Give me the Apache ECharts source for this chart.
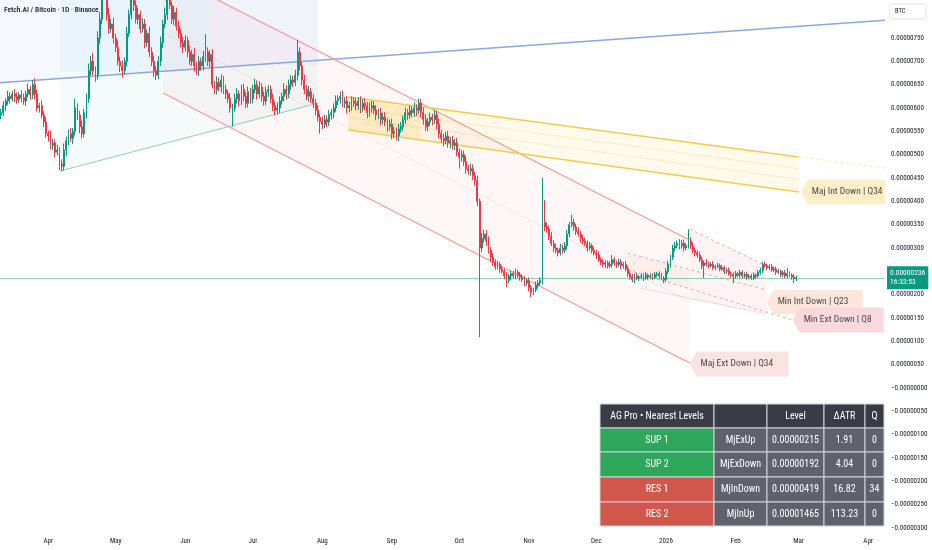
<!DOCTYPE html>
<html><head><meta charset="utf-8">
<script src="https://cdn.jsdelivr.net/npm/echarts@6/dist/echarts.min.js"></script>
<style>html,body{margin:0;padding:0;background:#fff}#c{width:932px;height:550px}</style>
</head><body><div id="c"></div>
<script>
// ---------- data (prices in satoshis, 1 sat = 0.00000001 BTC) ----------
const startDate = '2025-03-11';
const dayCount = 394;
const firstOpen = 585;
const closes = [
590,605,615,625,620,630,625,618,628,622,
615,630,640,628,650,630,600,605,585,570,
545,540,520,525,505,510,480,475,510,530,
545,535,550,600,585,560,545,590,620,680,
700,680,670,750,790,840,860,800,770,780,
750,730,700,690,680,700,760,800,840,820,
790,800,770,780,740,760,720,700,680,670,
700,740,780,800,840,820,790,805,775,760,
740,730,745,720,700,715,690,680,700,690,
710,720,700,715,650,640,655,645,660,640,
630,620,600,600,620,630,615,640,625,610,
635,620,640,650,630,645,625,615,635,640,
620,605,595,600,615,625,640,630,650,660,
655,670,720,690,660,640,625,635,620,610,
595,580,570,565,575,570,585,590,600,615,
620,625,610,615,600,605,615,610,605,615,
600,610,605,590,600,605,595,585,590,575,
580,570,560,565,545,550,540,555,560,575,
590,585,595,590,600,595,610,590,575,560,
570,580,575,585,565,545,535,530,540,525,
530,520,525,505,495,500,485,470,465,470,
455,445,400,300,320,330,315,295,280,270,
260,265,255,250,240,230,240,245,240,248,
242,238,232,225,230,215,205,210,220,225,
230,355,345,340,325,310,300,295,290,300,
295,305,330,350,355,345,335,330,320,315,
310,300,305,295,290,285,275,270,265,268,
262,265,275,268,265,270,262,265,255,245,
238,232,240,235,238,240,236,242,238,240,
237,243,245,240,235,232,250,265,280,300,
305,310,305,310,300,305,315,305,295,290,
285,275,262,268,265,262,265,258,260,262,
255,258,250,252,245,243,240,245,242,248,
240,243,238,240,236,242,240,248,252,265,
262,258,260,253,255,248,250,243,247,240,
245,242,238,234,236];
const wickUp = [
8,10,6,12,9,7,11,8,6,10, 9,7,12,8,10,14,9,6,11,8, 10,7,12,9,8,11,6,10,14,9,
8,12,7,20,10,9,13,8,11,15, 12,18,9,14,16,10,12,20,15,11, 13,9,15,10,12,8,14,11,16,12,
10,15,9,13,11,8,14,10,12,9, 11,13,9,15,10,12,8,14,10,12, 9,13,11,8,12,10,14,9,11,8,
12,38,10,9,11,8,13,10,12,9, 10,8,12,9,11,13,8,10,12,9, 11,8,10,13,9,12,8,10,11,9,
8,11,9,12,10,8,13,9,11,10, 9,12,26,10,8,11,9,12,8,10, 9,11,8,12,10,9,11,8,10,12,
8,10,12,9,11,8,10,9,12,8, 10,9,11,8,12,10,9,11,8,10, 9,11,8,10,12,9,8,11,10,9,
11,8,10,9,12,8,10,9,11,12, 9,10,8,11,9,12,8,10,9,11, 8,10,9,11,8,10,9,12,8,10,
9,8,10,6,12,9,8,10,7,9, 6,8,5,7,6,8,5,7,6,8, 5,7,6,8,5,7,6,5,8,6,
7,95,48,10,8,9,7,8,6,9, 7,8,9,6,16,8,7,9,6,8, 7,6,8,5,7,6,8,5,7,6,
5,7,10,6,5,7,6,5,7,6, 5,6,5,7,4,6,5,7,4,6, 5,6,4,5,6,5,7,8,6,7,
8,6,9,7,8,6,25,8,7,6, 5,7,6,5,8,6,5,7,4,6, 5,6,4,5,6,4,5,6,4,5,
4,5,6,4,5,6,4,5,6,5, 6,4,5,6,4,5,6,4,5,6, 12,5,4,6,5];
const wickDn = [
9,7,11,8,10,6,12,9,7,10, 8,11,7,10,9,12,8,10,7,11, 9,12,8,10,11,7,13,10,9,12,
10,8,12,9,11,14,10,8,12,9, 11,10,14,9,12,10,8,13,11,9, 12,10,9,13,15,9,11,8,10,12,
9,11,10,8,12,9,11,10,13,10, 8,10,12,9,11,8,10,12,9,11, 10,12,9,11,8,10,12,9,11,10,
9,11,10,12,8,10,11,9,12,10, 11,9,10,40,8,10,12,9,11,10, 9,11,10,8,12,9,11,10,9,11,
10,12,10,9,11,8,10,12,9,11, 10,8,11,9,12,10,8,11,9,10, 11,9,25,10,8,11,9,10,12,8,
9,11,8,10,12,9,11,8,10,9, 11,8,10,12,9,10,8,11,9,12, 10,9,11,8,12,10,9,11,8,10,
9,11,8,10,9,12,8,10,11,9, 10,8,12,9,11,10,9,12,8,10, 11,9,10,8,25,10,9,11,8,10,
9,11,10,191,9,8,10,7,9,8, 7,6,8,5,7,14,6,8,5,7, 6,8,5,7,6,8,10,6,5,7,
6,8,9,7,8,6,9,7,8,6, 7,6,8,7,6,8,7,6,8,7, 6,8,5,7,6,8,5,7,6,8,
6,5,7,6,8,5,7,6,5,7, 6,5,7,4,6,5,7,4,6,5, 6,4,5,7,4,7,5,6,7,6,
7,6,8,6,7,5,6,7,6,8, 6,5,7,26,5,6,4,5,6,4, 5,4,6,5,4,6,15,5,4,6,
5,4,6,5,4,5,6,4,5,6, 4,5,6,4,5,6,4,5,6,4, 5,4,6,9,5];
const yTicks = [-300,-250,-200,-150,-100,-50,0,50,100,150,200,250,300,350,400,450,500,550,600,650,700,750];
const lastPrice = 236;
const lastTime = '16:33:53';
const monthNames = ['Jan','Feb','Mar','Apr','May','Jun','Jul','Aug','Sep','Oct','Nov','Dec'];
const title = 'Fetch.AI / Bitcoin · 1D · Binance';

// ---------- drawing objects, [day index, sats] ----------
const blueLine = [[-0.5,654],[393.5,788]];
const greenLine = [[26.2,465],[141.2,610.7]];
const redUpper = [[72.1,891],[306.5,317.1]];
const redLower = [[72.1,632.1],[306.5,53.6]];
const redMid = [[72.1,761.5],[306.5,185.4]];
const yellowUpper = [[154.6,623.6],[355.1,495]];
const yellowLower = [[154.6,552.9],[355.1,420]];
const yellowInner1 = [[154.6,601],[355.1,470]];
const yellowInner2 = [[154.6,580],[355.1,447]];
const yellowExt = [[355.1,495],[394,471]];
const minUpper = [[306.5,340.7],[340.8,261.4]];
const minMid = [[278.9,289.3],[340.8,210.0]];
const minLow = [[278.9,252.9],[352.4,145.7]];
const minFaint = [[284.7,214.3],[340.8,158.6]];
const areaBlue = [[-0.5,900],[141.2,900],[141.2,702.2],[-0.5,654]];
const areaTeal = [[26.2,900],[93.1,900],[93.1,677],[26.2,677]];
const areaGray = [[93.1,900],[141.2,900],[141.2,692],[93.1,692]];
const areaGreen = [[26.2,465],[141.2,610.7],[141.2,702.2],[26.2,663]];
const areaRed = [[72.1,891],[306.5,317.1],[306.5,53.6],[72.1,632.1]];
const areaYellow = [[154.6,623.6],[355.1,495],[355.1,420],[154.6,552.9]];
const areaYellowStrong = [[154.6,623.6],[186.7,603],[186.7,531.7],[154.6,552.9]];
const areaMin1 = [[306.5,340.7],[340.8,261.4],[340.8,160.7],[306.5,188.6]];
const areaMin2 = [[278.9,289.3],[306.5,253.9],[306.5,212.6],[278.9,252.9]];
const channelLabels = [
  {text:'Maj Int Down | Q34', at:[356.0,420], w:92, h:24, fill:'#fcefc8'},
  {text:'Min Int Down | Q23', at:[340.8,184.3], w:96, h:24, fill:'#fbe6d9'},
  {text:'Min Ext Down | Q8', at:[352.4,145.7], w:91, h:25, fill:'#f9d9de'},
  {text:'Maj Ext Down | Q34', at:[306.5,51.4], w:99, h:25, fill:'#fbe3e1'}
];
const tableHeader = ['AG Pro • Nearest Levels','','Level','ΔATR','Q'];
const tableRows = [
  ['SUP 1','MjExUp','0.00000215','1.91','0'],
  ['SUP 2','MjExDown','0.00000192','4.04','0'],
  ['RES 1','MjInDown','0.00000419','16.82','34'],
  ['RES 2','MjInUp','0.00001465','113.23','0']
];

// ---------- build ----------
const FONT = "'Liberation Sans Narrow', 'Roboto Condensed', Roboto, sans-serif";
const categories = [];
{
  const d0 = new Date(startDate + 'T00:00:00Z');
  for (let i = 0; i < dayCount; i++) {
    const d = new Date(d0.getTime() + i * 86400000);
    categories.push(d.toISOString().slice(0, 10));
  }
}
const candles = [];
let prev = firstOpen;
for (let i = 0; i < closes.length; i++) {
  const o = prev, c = closes[i];
  candles.push([o, c, Math.min(o, c) - wickDn[i], Math.max(o, c) + wickUp[i]]);
  prev = c;
}
function fmtPrice(v) {
  if (v <= 0) return '\u2212' + (Math.abs(v) / 1e8).toFixed(8);
  return (v / 1e8).toFixed(8);
}
function lineSeries(pts, color, width, type) {
  return {type:'line', xAxisIndex:1, yAxisIndex:0, data:pts, symbol:'none', silent:true, z:2,
    lineStyle:{color:color, width:width, type:type || 'solid'}, animation:false};
}
const polys = [
  {pts:areaBlue, fill:'rgba(41,98,255,0.045)'},
  {pts:areaTeal, fill:'rgba(0,172,193,0.05)'},
  {pts:areaGray, fill:'rgba(120,123,134,0.035)'},
  {pts:areaGreen, fill:'rgba(8,153,129,0.04)'},
  {pts:areaRed, fill:'rgba(242,54,69,0.04)'},
  {pts:areaYellow, fill:'rgba(255,193,7,0.08)'},
  {pts:areaYellowStrong, fill:'rgba(255,193,7,0.14)'},
  {pts:areaMin1, fill:'rgba(242,54,69,0.06)'},
  {pts:areaMin2, fill:'rgba(255,140,80,0.08)'}
];
function clipRect(params) {
  const cs = params.coordSys;
  return {type:'rect', shape:{x:cs.x, y:cs.y, width:cs.width, height:cs.height}};
}

// table graphics
const colX = [600, 714, 767, 824, 865, 884];
const rowY = [404, 428, 452, 477, 502, 526];
const tableG = [];
function cell(x0, y0, x1, y1, fill, text) {
  tableG.push({type:'rect', shape:{x:x0, y:y0, width:x1 - x0, height:y1 - y0}, style:{fill:fill, stroke:'#d1d4dc', lineWidth:1}, z:100});
  if (text) tableG.push({type:'text', x:(x0 + x1) / 2, y:(y0 + y1) / 2, z:101,
    style:{text:text, fill:'#ffffff', font:'10px ' + FONT, align:'center', verticalAlign:'middle'}});
}
for (let c = 0; c < 5; c++) cell(colX[c], rowY[0], colX[c + 1], rowY[1], '#393c47', tableHeader[c]);
tableRows.forEach((r, i) => {
  for (let c = 0; c < 5; c++) {
    const fill = c === 0 ? (i < 2 ? '#2ea65c' : '#d1564c') : '#5f626c';
    cell(colX[c], rowY[i + 1], colX[c + 1], rowY[i + 2], fill, r[c]);
  }
});

const chart = echarts.init(document.getElementById('c'), null, {renderer:'canvas'});
chart.setOption({
  animation:false,
  backgroundColor:'#ffffff',
  grid:{left:0, right:47, top:0, height:533, containLabel:false},
  xAxis:[
    {type:'category', data:categories, boundaryGap:true,
      axisLine:{show:false}, axisTick:{show:false}, splitLine:{show:false},
      axisLabel:{color:'#131722', fontSize:7, fontFamily:FONT, margin:5,
        interval:(idx, val) => val.slice(8) === '01',
        formatter:(val) => { const m = +val.slice(5, 7); return m === 1 ? val.slice(0, 4) : monthNames[m - 1]; }}},
    {type:'value', min:-0.5, max:dayCount - 0.5, show:false}
  ],
  yAxis:[{type:'value', position:'right', min:-310.7, max:831.4, scale:false,
    axisLine:{show:false}, axisTick:{show:false}, splitLine:{show:false},
    axisLabel:{customValues:yTicks, formatter:fmtPrice, color:'#131722', fontSize:7, fontFamily:FONT, margin:6}}],
  graphic:[
    {type:'text', left:4, top:6, z:100, style:{text:title, fill:'#131722', font:'500 7.5px ' + FONT}},
    {type:'rect', shape:{x:890, y:4, width:36, height:15, r:2}, style:{fill:'#ffffff', stroke:'#e0e3eb', lineWidth:1}, z:100},
    {type:'text', x:895, y:11.5, z:101, style:{text:'BTC', fill:'#131722', font:'6.5px ' + FONT, verticalAlign:'middle'}},
    ...tableG
  ],
  series:[
    {type:'custom', xAxisIndex:1, yAxisIndex:0, silent:true, z:1,
      data:polys.map((p, i) => [i, 0]),
      encode:{x:0, y:1},
      renderItem:(params, api) => {
        const p = polys[api.value(0)];
        return {type:'polygon', shape:{points:p.pts.map(q => api.coord(q))},
          style:{fill:p.fill}, clipPath:clipRect(params)};
      }},
    lineSeries(blueLine, '#8aa8dc', 1.5),
    lineSeries(greenLine, '#93d3b5', 1.2),
    lineSeries(redUpper, '#f39a92', 1.2),
    lineSeries(redLower, '#f39a92', 1.2),
    lineSeries(redMid, 'rgba(242,54,69,0.12)', 1),
    lineSeries(yellowUpper, '#f6cb48', 1.5),
    lineSeries(yellowLower, '#f6cb48', 1.5),
    lineSeries(yellowInner1, 'rgba(246,203,72,0.3)', 1),
    lineSeries(yellowInner2, 'rgba(246,203,72,0.3)', 1),
    lineSeries(yellowExt, 'rgba(246,203,72,0.45)', 1, [3, 3]),
    lineSeries(minUpper, '#f5a5a0', 1, [3, 3]),
    lineSeries(minMid, '#f6b19a', 1, [3, 3]),
    lineSeries(minLow, '#f5a5a0', 1, [3, 3]),
    lineSeries(minFaint, 'rgba(242,54,69,0.18)', 1),
    {type:'candlestick', xAxisIndex:0, yAxisIndex:0, data:candles, barWidth:1.4, z:3, silent:true,
      itemStyle:{color:'#089981', color0:'#f23645', borderColor:'#089981', borderColor0:'#f23645', borderWidth:1},
      markLine:{silent:true, symbol:['none', 'none'],
        lineStyle:{color:'rgba(8,153,129,0.45)', width:1, type:'solid'},
        label:{show:true, position:'end', distance:2, formatter:fmtPrice(lastPrice) + '\n' + lastTime,
          backgroundColor:'#089981', color:'#ffffff', fontSize:7.5, lineHeight:9.5, padding:[2, 3, 2, 3], fontFamily:FONT},
        data:[{yAxis:lastPrice}]}},
    {type:'custom', xAxisIndex:1, yAxisIndex:0, silent:true, z:4,
      data:channelLabels.map((l, i) => [i, 0]),
      encode:{x:0, y:1},
      renderItem:(params, api) => {
        const l = channelLabels[api.value(0)];
        const p = api.coord(l.at);
        const x = p[0], y = p[1], h2 = l.h / 2;
        return {type:'group', clipPath:clipRect(params), children:[
          {type:'polygon', shape:{points:[[x, y], [x + 7, y - h2], [x + l.w, y - h2], [x + l.w, y + h2], [x + 7, y + h2]]},
            style:{fill:l.fill}},
          {type:'text', x:x + 11, y:y, style:{text:l.text, fill:'#4a4a4a', font:'9.5px ' + FONT, verticalAlign:'middle'}}
        ]};
      }}
  ]
});
</script></body></html>
